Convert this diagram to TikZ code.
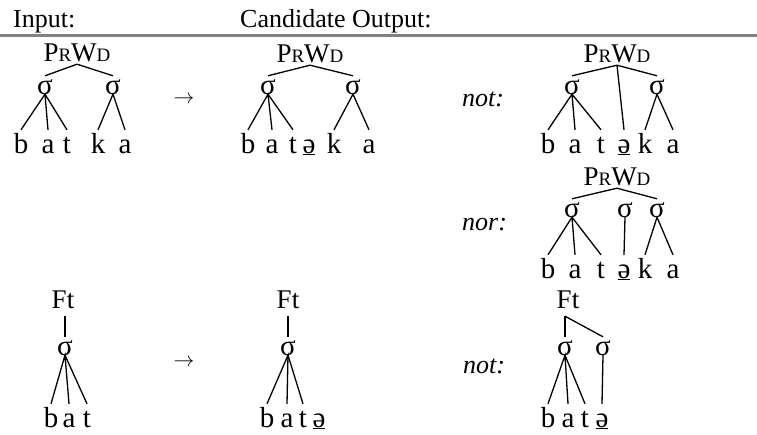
\documentclass[tikz,border=0pt]{standalone}
\usepackage{fontspec}
\setmainfont{Liberation Serif}
\newcommand\tfs{\fontsize{27}{30}\selectfont}
\newcommand\sfs{\fontsize{29}{32}\selectfont}
\newcommand\hfs{\fontsize{26}{30}\selectfont}
\newcommand\afs{\fontsize{22}{24}\selectfont}
\newcommand\prwd{P{\fontsize{19}{19}\selectfont R}W{\fontsize{19}{19}\selectfont D}}
\newcommand\schwa{\underline{ə}}
\tikzset{
  seg/.style={font=\sfs, anchor=base, inner sep=0pt, text height=23pt, text depth=0pt},
  sig/.style={font=\sfs, anchor=base, inner sep=0pt, text height=18pt, text depth=0pt},
  mothr/.style={font=\tfs, anchor=base, inner sep=0pt, text depth=3pt},
  ftn/.style={font=\tfs, anchor=base, inner sep=0pt, text depth=8pt},
  hdr/.style={font=\hfs, anchor=base west, inner sep=0pt},
  itl/.style={font=\hfs\itshape, anchor=base west, inner sep=0pt},
  br/.style={line width=1.3pt},
  arrsym/.style={font=\afs, anchor=center, inner sep=0pt}
}
\begin{document}
\begin{tikzpicture}[x=1pt,y=-1pt]
\useasboundingbox (0,0) rectangle (757,434);
% header
\node[hdr] (hin) at (13,27) {Input:};
\node[hdr] (hout) at (240,27) {Candidate Output:};
\draw[gray, line width=3pt] (0,35) -- (757,35);

% tree 1
\node[mothr] (p1) at (77,61) {\prwd};
\node[sig] (s1a) at (45,94) {σ};
\node[sig] (s1b) at (113,94) {σ};
\node[seg] (l1a) at (21,153) {b};
\node[seg] (l1b) at (48,153) {a};
\node[seg] (l1c) at (67,153) {t};
\node[seg] (l1d) at (98,153) {k};
\node[seg] (l1e) at (125,153) {a};
\draw[br] (s1a.north) -- (p1.south) -- (s1b.north);
\draw[br] (l1a.north) -- (s1a.south) -- (l1b.north);
\draw[br] (s1a.south) -- (l1c.north);
\draw[br] (l1d.north) -- (s1b.south) -- (l1e.north);

\node[arrsym] (ar1) at (184,100) {$\rightarrow$};

% tree 2
\node[mothr] (p2) at (310,62) {\prwd};
\node[sig] (s2a) at (268,94) {σ};
\node[sig] (s2b) at (353,94) {σ};
\node[seg] (l2a) at (248,153) {b};
\node[seg] (l2b) at (272,153) {a};
\node[seg] (l2c) at (293,153) {t};
\node[seg] (l2d) at (309,153) {\schwa};
\node[seg] (l2e) at (334,153) {k};
\node[seg] (l2f) at (369,153) {a};
\draw[br] (s2a.north) -- (p2.south) -- (s2b.north);
\draw[br] (l2a.north) -- (s2a.south) -- (l2b.north);
\draw[br] (s2a.south) -- (l2c.north);
\draw[br] (l2e.north) -- (s2b.south) -- (l2f.north);

% tree 3
\node[itl] (not1) at (462,106) {not:};
\node[mothr] (p3) at (617,62) {\prwd};
\node[sig] (s3a) at (572,94) {σ};
\node[sig] (s3b) at (657,94) {σ};
\node[seg] (l3a) at (548,153) {b};
\node[seg] (l3b) at (575,153) {a};
\node[seg] (l3c) at (601,153) {t};
\node[seg] (l3d) at (624,153) {\schwa};
\node[seg] (l3e) at (645,153) {k};
\node[seg] (l3f) at (673,153) {a};
\draw[br] (s3a.north) -- (p3.south) -- (s3b.north);
\draw[br] (p3.south) -- (l3d.north);
\draw[br] (l3a.north) -- (s3a.south) -- (l3b.north);
\draw[br] (s3a.south) -- (l3c.north);
\draw[br] (l3e.north) -- (s3b.south) -- (l3f.north);

% tree 4
\node[itl] (nor1) at (462,230) {nor:};
\node[mothr] (p4) at (617,185) {\prwd};
\node[sig] (s4a) at (572,217) {σ};
\node[sig] (s4b) at (625,217) {σ};
\node[sig] (s4c) at (657,217) {σ};
\node[seg] (l4a) at (548,278) {b};
\node[seg] (l4b) at (575,278) {a};
\node[seg] (l4c) at (601,278) {t};
\node[seg] (l4d) at (624,278) {\schwa};
\node[seg] (l4e) at (645,278) {k};
\node[seg] (l4f) at (673,278) {a};
\draw[br] (s4a.north) -- (p4.south) -- (s4c.north);
\draw[br] (s4b.south) -- (l4d.north);
\draw[br] (l4a.north) -- (s4a.south) -- (l4b.north);
\draw[br] (s4a.south) -- (l4c.north);
\draw[br] (l4e.north) -- (s4c.south) -- (l4f.north);

% tree 5
\node[ftn] (f5) at (63,308) {Ft};
\node[sig] (s5) at (65,355) {σ};
\node[seg] (l5a) at (51,427) {b};
\node[seg] (l5b) at (69,427) {a};
\node[seg] (l5c) at (87,427) {t};
\draw[br] (s5.north |- f5.south) -- (s5.north);
\draw[br] (l5a.north) -- (s5.south) -- (l5b.north);
\draw[br] (s5.south) -- (l5c.north);

\node[arrsym] (ar2) at (184,363) {$\rightarrow$};

% tree 6
\node[ftn] (f6) at (288,308) {Ft};
\node[sig] (s6) at (288,355) {σ};
\node[seg] (l6a) at (267,427) {b};
\node[seg] (l6b) at (287,427) {a};
\node[seg] (l6c) at (303,427) {t};
\node[seg] (l6d) at (319,427) {\schwa};
\draw[br] (f6.south) -- (s6.north);
\draw[br] (l6a.north) -- (s6.south) -- (l6b.north);
\draw[br] (s6.south) -- (l6c.north);

% tree 7
\node[itl] (not2) at (463,373) {not:};
\node[ftn] (f7) at (568,308) {Ft};
\node[sig] (s7a) at (565,355) {σ};
\node[sig] (s7b) at (603,355) {σ};
\node[seg] (l7a) at (548,427) {b};
\node[seg] (l7b) at (568,427) {a};
\node[seg] (l7c) at (585,427) {t};
\node[seg] (l7d) at (602,427) {\schwa};
\coordinate (f7j) at ([xshift=-3pt]f7.south);
\draw[br] (s7a.north |- f7j) -- (s7a.north);
\draw[br] (s7a.north |- f7j) -- (s7b.north);
\draw[br] (l7a.north) -- (s7a.south) -- (l7b.north);
\draw[br] (s7a.south) -- (l7c.north);
\draw[br] (s7b.south) -- (l7d.north);
\end{tikzpicture}
\end{document}
